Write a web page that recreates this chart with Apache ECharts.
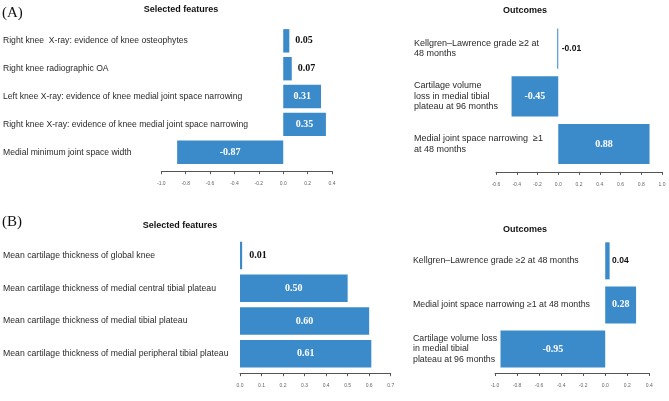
<!DOCTYPE html>
<html>
<head>
<meta charset="utf-8">
<script src="https://cdn.jsdelivr.net/npm/echarts@6/dist/echarts.min.js"></script>
<style>html,body{margin:0;padding:0;background:#fff;}#c{width:669px;height:401px;}</style>
</head>
<body>
<div id="c"></div>
<script>
// ---- data ----
const featuresA = [
  "Right knee  X-ray: evidence of knee osteophytes",
  "Right knee radiographic OA",
  "Left knee X-ray: evidence of knee medial joint space narrowing",
  "Right knee X-ray: evidence of knee medial joint space narrowing",
  "Medial minimum joint space width"
];
const featureValuesA = [0.05, 0.07, 0.31, 0.35, -0.87];

const outcomesA = [
  "Kellgren\u2013Lawrence grade \u22652 at\n48 months",
  "Cartilage volume\nloss in medial tibial\nplateau at 96 months",
  "Medial joint space narrowing  \u22651\nat 48 months"
];
const outcomeValuesA = [-0.01, -0.45, 0.88];

const featuresB = [
  "Mean cartilage thickness of global knee",
  "Mean cartilage thickness of medial central tibial plateau",
  "Mean cartilage thickness of medial tibial plateau",
  "Mean cartilage thickness of medial peripheral tibial plateau"
];
const featureValuesB = [0.01, 0.50, 0.60, 0.61];

const outcomesB = [
  "Kellgren\u2013Lawrence grade \u22652 at 48 months",
  "Medial joint space narrowing \u22651 at 48 months",
  "Cartilage volume loss\nin medial tibial\nplateau at 96 months"
];
const outcomeValuesB = [0.04, 0.28, -0.95];

const axisA1 = {min: -1.0, max: 0.4, interval: 0.2};
const axisA2 = {min: -0.6, max: 1.0, interval: 0.2};
const axisB1 = {min: 0.0, max: 0.7, interval: 0.1};
const axisB2 = {min: -1.0, max: 0.4, interval: 0.2};

// ---- styles ----
const BAR = '#3b8bcb';
const SERIF = "'Liberation Serif','Times New Roman',serif";
const SANS = "'Liberation Sans',Arial,sans-serif";

const panels = [
  {cats: featuresA, vals: featureValuesA, ax: axisA1, grid: {left: 161.3, top: 26.9, width: 170.7, height: 139.3}, offset: 5, labelX: 3, catFont: 8.6, lh: 10, smallFont: SERIF, smallSize: 10, dist: 6},
  {cats: outcomesA, vals: outcomeValuesA, ax: axisA2, grid: {left: 496, top: 24.8, width: 166, height: 143.1}, offset: 4, labelX: 414, catFont: 9, lh: 10.5, smallFont: SANS, smallSize: 8.5, dist: 3.5},
  {cats: featuresB, vals: featureValuesB, ax: axisB1, grid: {left: 240, top: 239.1, width: 150.7, height: 131.1}, offset: 3, labelX: 3, catFont: 8.7, lh: 10, smallFont: SERIF, smallSize: 10, dist: 7},
  {cats: outcomesB, vals: outcomeValuesB, ax: axisB2, grid: {left: 495, top: 238.8, width: 154.3, height: 132.2}, offset: 2, labelX: 413, catFont: 8.8, lh: 10.5, smallFont: SANS, smallSize: 8.5, dist: 2.5}
];

const grids = [], xAxes = [], yAxes = [], series = [];
panels.forEach((p, i) => {
  grids.push(Object.assign({containLabel: false}, p.grid));
  xAxes.push({
    type: 'value', gridIndex: i, min: p.ax.min, max: p.ax.max, interval: p.ax.interval,
    offset: p.offset,
    splitLine: {show: false},
    axisLine: {show: true, onZero: false, lineStyle: {color: '#555', width: 1}},
    axisTick: {show: true, length: 3, lineStyle: {color: '#555'}},
    axisLabel: {show: true, fontSize: 5, color: '#666', fontFamily: SANS, margin: 10,
      showMinLabel: true, showMaxLabel: true,
      formatter: v => (Math.abs(v) < 1e-9 ? 0 : v).toFixed(1)}
  });
  yAxes.push({
    type: 'category', gridIndex: i, data: p.cats, inverse: true,
    axisLine: {show: false}, axisTick: {show: false}, splitLine: {show: false},
    axisLabel: {show: true, interval: 0, align: 'left', margin: p.grid.left - p.labelX,
      fontSize: p.catFont, lineHeight: p.lh, color: '#2a2a2a', fontFamily: SANS}
  });
  series.push({
    type: 'bar', xAxisIndex: i, yAxisIndex: i, barCategoryGap: '16%',
    itemStyle: {color: BAR},
    label: {show: true, position: 'inside', color: '#fff', fontFamily: SERIF, fontWeight: 'bold', fontSize: 10,
      formatter: d => d.value.toFixed(2)},
    data: p.vals.map(v => Math.abs(v) < 0.1 ? {
      value: v,
      label: {position: 'right', distance: p.dist, color: '#111', fontFamily: p.smallFont, fontSize: p.smallSize}
    } : {value: v}),
    silent: true, animation: false
  });
});

const txt = (x, y, s, font, size, weight, align) => ({
  type: 'text', x: x, y: y, silent: true,
  style: {text: s, fontFamily: font, fontSize: size, fontWeight: weight, fill: '#111',
    textAlign: align, textVerticalAlign: 'middle'}
});

const chart = echarts.init(document.getElementById('c'), null, {renderer: 'canvas'});
chart.setOption({
  animation: false,
  backgroundColor: '#fff',
  grid: grids, xAxis: xAxes, yAxis: yAxes, series: series,
  graphic: [
    txt(2, 13, '(A)', SERIF, 15, 'normal', 'left'),
    txt(2, 222.5, '(B)', SERIF, 15, 'normal', 'left'),
    txt(181, 10, 'Selected features', SANS, 9, 'bold', 'center'),
    txt(525, 11, 'Outcomes', SANS, 9, 'bold', 'center'),
    txt(180, 226, 'Selected features', SANS, 9, 'bold', 'center'),
    txt(525, 229.5, 'Outcomes', SANS, 9, 'bold', 'center')
  ]
});
</script>
</body>
</html>
